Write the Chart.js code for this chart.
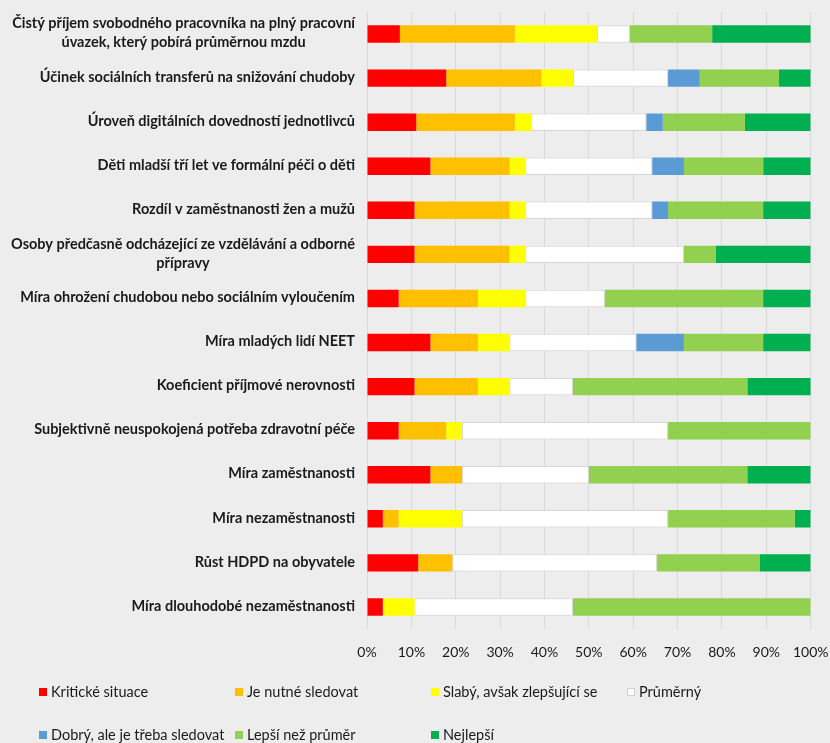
<!DOCTYPE html>
<html>
<head>
<meta charset="utf-8">
<script src="https://cdn.jsdelivr.net/npm/chart.js@4.4.0/dist/chart.umd.min.js"></script>
<style>
  html, body { margin: 0; padding: 0; background: #EDEDED; }
  #wrap { position: relative; width: 830px; height: 743px; background: #EDEDED; overflow: hidden; }
  canvas { position: absolute; left: 0; top: 0; }
  .lg { position: absolute; font-family: Lato, "Open Sans", sans-serif; font-size: 14.5px; color: #1a1a1a; white-space: nowrap; line-height: 16px; }
  .lg i { position: absolute; left: 0; top: 4px; width: 8px; height: 8px; box-sizing: border-box; }
  .lg span { position: absolute; left: 12px; top: 0; }
</style>
</head>
<body>
<div id="wrap">
  <canvas id="c" width="830" height="743"></canvas>
  <div id="legend"></div>
</div>
<script>
const categories = [
  ['Čistý příjem svobodného pracovníka na plný pracovní', 'úvazek, který pobírá průměrnou mzdu'],
  ['Účinek sociálních transferů na snižování chudoby'],
  ['Úroveň digitálních dovedností jednotlivců'],
  ['Děti mladší tří let ve formální péči o děti'],
  ['Rozdíl v zaměstnanosti žen a mužů'],
  ['Osoby předčasně odcházející ze vzdělávání a odborné', 'přípravy'],
  ['Míra ohrožení chudobou nebo sociálním vyloučením'],
  ['Míra mladých lidí NEET'],
  ['Koeficient příjmové nerovnosti'],
  ['Subjektivně neuspokojená potřeba zdravotní péče'],
  ['Míra zaměstnanosti'],
  ['Míra nezaměstnanosti'],
  ['Růst HDPD na obyvatele'],
  ['Míra dlouhodobé nezaměstnanosti']
];

const seriesNames = ['Kritické situace', 'Je nutné sledovat', 'Slabý, avšak zlepšující se', 'Průměrný',
  'Dobrý, ale je třeba sledovat', 'Lepší než průměr', 'Nejlepší'];

const kriticke = [7.41, 17.86, 11.11, 14.29, 10.71, 10.71, 7.14, 14.29, 10.71, 7.14, 14.29, 3.57, 11.54, 3.57];
const nutne    = [25.93, 21.43, 22.22, 17.86, 21.43, 21.43, 17.86, 10.71, 14.29, 10.71, 7.14, 3.57, 7.69, 0];
const slaby    = [18.52, 7.14, 3.70, 3.57, 3.57, 3.57, 10.71, 7.14, 7.14, 3.57, 0, 14.29, 0, 7.14];
const prumerny = [7.41, 21.43, 25.93, 28.57, 28.57, 35.71, 17.86, 28.57, 14.29, 46.43, 28.57, 46.43, 46.15, 35.71];
const dobry    = [0, 7.14, 3.70, 7.14, 3.57, 0, 0, 10.71, 0, 0, 0, 0, 0, 0];
const lepsi    = [18.52, 17.86, 18.52, 17.86, 21.43, 7.14, 35.71, 17.86, 39.29, 32.14, 35.71, 28.57, 23.08, 53.57];
const nejlepsi = [22.22, 7.14, 14.81, 10.71, 10.71, 21.43, 10.71, 10.71, 14.29, 0, 14.29, 3.57, 11.54, 0];

const xTicks = [0, 10, 20, 30, 40, 50, 60, 70, 80, 90, 100];

const colors = ['#FF0000', '#FFC000', '#FFFF00', '#FFFFFF', '#5B9BD5', '#92D050', '#00B050'];
const seriesData = [kriticke, nutne, slaby, prumerny, dobry, lepsi, nejlepsi];

const datasets = seriesData.map((d, i) => ({
  label: seriesNames[i],
  data: d,
  backgroundColor: colors[i],
  borderColor: i === 3 ? '#D6D6D6' : colors[i],
  borderWidth: i === 3 ? 1 : 0,
  borderSkipped: false,
  barPercentage: 0.395,
  categoryPercentage: 1.0
}));

const LABEL_FONT = 'Lato, "Open Sans", sans-serif';
const yLabelPlugin = {
  id: 'yLabels',
  afterDraw(chart) {
    const ctx = chart.ctx;
    const y = chart.scales.y;
    ctx.save();
    let size = 14;
    ctx.font = 'bold ' + size + 'px ' + LABEL_FONT;
    const target = 343;
    const w = ctx.measureText(categories[0][0]).width;
    size = size * target / w;
    ctx.font = 'bold ' + size.toFixed(2) + 'px ' + LABEL_FONT;
    ctx.fillStyle = '#1a1a1a';
    ctx.textBaseline = 'middle';
    ctx.textAlign = 'center';
    const right = 355;
    const lh = 19;
    categories.forEach((lines, i) => {
      const cy = y.getPixelForValue(i) - 1;
      const bw = Math.max(...lines.map(l => ctx.measureText(l).width));
      const cx = right - bw / 2;
      const y0 = cy - (lines.length - 1) * lh / 2;
      lines.forEach((l, k) => ctx.fillText(l, cx, y0 + k * lh));
    });
    ctx.restore();
  }
};

const chart = new Chart(document.getElementById('c'), {
  type: 'bar',
  data: { labels: categories.map(c => c.join(' ')), datasets },
  options: {
    indexAxis: 'y',
    responsive: false,
    animation: false,
    devicePixelRatio: 1,
    layout: { padding: { left: 367, right: 19.3, top: 12, bottom: 0 } },
    plugins: { legend: { display: false }, tooltip: { enabled: false } },
    scales: {
      x: {
        stacked: true,
        min: 0, max: 100,
        afterBuildTicks(scale) { scale.ticks = xTicks.map(v => ({ value: v })); },
        afterFit(scale) {
          scale.height = 114;
          scale.paddingLeft = 0;
          scale.paddingRight = 0;
        },
        ticks: {
          padding: 15,
          color: '#1a1a1a',
          font: { family: LABEL_FONT, size: 14 },
          callback: v => v + '%',
          maxRotation: 0
        },
        grid: { color: '#D9D9D9', lineWidth: 1, drawTicks: false },
        border: { display: false }
      },
      y: {
        stacked: true,
        display: false
      }
    }
  },
  plugins: [yLabelPlugin]
});

const legendPos = [
  [39, 684], [235, 684], [431, 684], [627, 684],
  [39, 727], [235, 727], [431, 727]
];
const lg = document.getElementById('legend');
chart.data.datasets.forEach((ds, i) => {
  const d = document.createElement('div');
  d.className = 'lg';
  d.style.left = legendPos[i][0] + 'px';
  d.style.top = legendPos[i][1] + 'px';
  const sw = document.createElement('i');
  sw.style.background = ds.backgroundColor;
  if (i === 3) sw.style.border = '1px solid #D0D0D0';
  const t = document.createElement('span');
  t.textContent = ds.label;
  d.appendChild(sw); d.appendChild(t);
  lg.appendChild(d);
});
</script>
</body>
</html>
